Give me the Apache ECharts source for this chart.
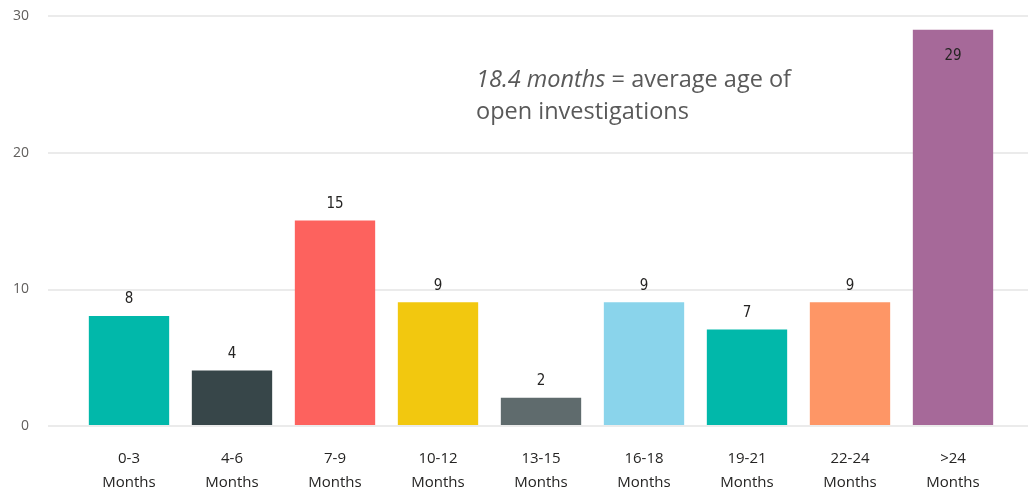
<!DOCTYPE html>
<html>
<head>
<meta charset="utf-8">
<script src="https://cdn.jsdelivr.net/npm/echarts@6/dist/echarts.min.js"></script>
<style>
html,body{margin:0;padding:0;background:#fff;}
#chart{width:1028px;height:495px;}
</style>
</head>
<body>
<div id="chart"></div>
<script>
const categories = ['0-3\nMonths','4-6\nMonths','7-9\nMonths','10-12\nMonths','13-15\nMonths','16-18\nMonths','19-21\nMonths','22-24\nMonths','>24\nMonths'];
const values = [8, 4, 15, 9, 2, 9, 7, 9, 29];
const barColors = ['#01B8AA','#374649','#FD625E','#F2C80F','#5F6B6D','#8AD4EB','#01B8AA','#FE9666','#A66999'];
const yTicks = [0, 10, 20, 30];
const annotationItalic = '18.4 months';
const annotationRest = ' = average age of';
const annotationLine2 = 'open investigations';

const chart = echarts.init(document.getElementById('chart'));
const yMin = yTicks[0], yMax = yTicks[yTicks.length-1], yInt = yTicks[1]-yTicks[0];

const option = {
  animation: false,
  grid: [
    {left: 48, right: 0, top: 16, bottom: 69},
    {left: 77.5, right: 23.5, top: 16, bottom: 69}
  ],
  xAxis: [
    {gridIndex: 0, type: 'category', data: [''], show: false},
    {gridIndex: 1, type: 'category', data: categories,
     axisLine: {show: false}, axisTick: {show: false},
     axisLabel: {interval: 0, color: '#252423', fontSize: 15, lineHeight: 24, margin: 22,
                 fontFamily: 'Open Sans'}}
  ],
  yAxis: [
    {gridIndex: 0, type: 'value', min: yMin, max: yMax, interval: yInt,
     axisLine: {show: false}, axisTick: {show: false},
     axisLabel: {color: '#605E5C', fontSize: 14, margin: 19, fontFamily: 'Open Sans'},
     splitLine: {lineStyle: {color: '#EBEBEB', width: 2}}},
    {gridIndex: 1, type: 'value', min: yMin, max: yMax, interval: yInt, show: false,
     splitLine: {show: false}}
  ],
  series: [{
    type: 'bar',
    xAxisIndex: 1, yAxisIndex: 1,
    barWidth: '78%',
    data: values.map((v, i) => ({
      value: v,
      itemStyle: {color: barColors[i]},
      label: v === Math.max(...values) ? {position: 'insideTop', distance: 19} : {}
    })),
    label: {show: true, position: 'top', distance: 9, color: '#252423', fontSize: 15,
            fontFamily: 'DejaVu Sans Condensed'}
  }],
  graphic: [{
    type: 'text',
    left: 476, top: 68,
    style: {
      text: '{i|' + annotationItalic + '}{n|' + annotationRest + '}\n{n|' + annotationLine2 + '}',
      rich: {
        i: {fontStyle: 'italic', fontSize: 23.5, fill: '#595959', fontFamily: 'Open Sans', lineHeight: 32},
        n: {fontSize: 23.5, fill: '#595959', fontFamily: 'Open Sans', lineHeight: 32}
      }
    }
  }]
};
chart.setOption(option);
</script>
</body>
</html>
